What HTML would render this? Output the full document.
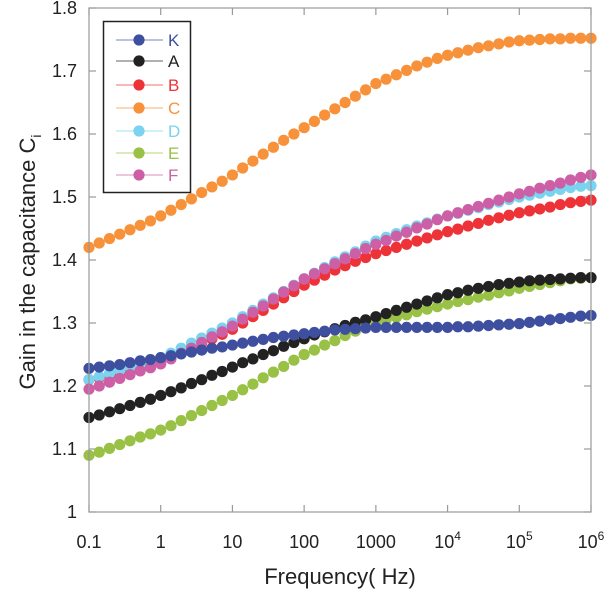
<!DOCTYPE html>
<html><head><meta charset="utf-8"><style>
body{margin:0;background:#fff;}
svg text{font-family:"Liberation Sans",Arial,sans-serif;}
</style></head><body>
<svg id="chart" width="606" height="589" xmlns="http://www.w3.org/2000/svg">
<g id="ticks"></g>
<g id="series"></g>
<rect x="89" y="8" width="502" height="504" fill="none" stroke="#999" stroke-width="1.2"/>
<g id="legend"></g>
<text x="340" y="584" font-size="22" text-anchor="middle" fill="#222">Frequency( Hz)</text>
<text transform="translate(35,262) rotate(-90)" font-size="22" text-anchor="middle" fill="#222">Gain in the capacitance C<tspan font-size="14" dy="6">i</tspan></text>
</svg>
<script>
const xTickExp = [-1,0,1,2,3,4,5,6];
const xTickLabels = ["0.1","1","10","100","1000","10^4","10^5","10^6"];
const yTicks = [1,1.1,1.2,1.3,1.4,1.5,1.6,1.7,1.8];
const yTickLabels = ["1","1.1","1.2","1.3","1.4","1.5","1.6","1.7","1.8"];
const seriesNames = ["K","A","B","C","D","E","F"];
const seriesColors = {K:"#3f4fa0",A:"#222222",B:"#ee3338",C:"#f7923a",D:"#7ad3ef",E:"#98c145",F:"#cc5fa5"};
const K = [1.228,1.230,1.232,1.234,1.237,1.240,1.242,1.245,1.248,1.251,1.254,1.257,1.260,1.262,1.265,1.268,1.271,1.274,1.277,1.279,1.281,1.283,1.285,1.287,1.289,1.290,1.291,1.292,1.293,1.293,1.293,1.293,1.293,1.293,1.293,1.293,1.294,1.294,1.295,1.296,1.297,1.298,1.299,1.301,1.303,1.305,1.307,1.309,1.311,1.312];
const A = [1.150,1.154,1.159,1.164,1.169,1.174,1.179,1.185,1.191,1.197,1.204,1.210,1.217,1.223,1.230,1.237,1.243,1.250,1.256,1.263,1.269,1.275,1.281,1.286,1.291,1.296,1.301,1.305,1.310,1.315,1.320,1.325,1.330,1.335,1.340,1.345,1.348,1.352,1.355,1.358,1.361,1.363,1.365,1.367,1.368,1.369,1.370,1.371,1.372,1.372];
const B = [1.210,1.213,1.217,1.221,1.226,1.231,1.235,1.240,1.246,1.253,1.260,1.268,1.275,1.282,1.290,1.300,1.310,1.320,1.330,1.340,1.350,1.360,1.368,1.376,1.384,1.391,1.398,1.404,1.410,1.415,1.420,1.425,1.430,1.435,1.440,1.445,1.449,1.454,1.458,1.463,1.467,1.471,1.475,1.478,1.481,1.484,1.488,1.491,1.493,1.495];
const C = [1.420,1.427,1.434,1.441,1.448,1.455,1.462,1.470,1.479,1.488,1.497,1.507,1.516,1.525,1.535,1.546,1.557,1.568,1.579,1.590,1.600,1.610,1.620,1.630,1.640,1.650,1.660,1.670,1.680,1.687,1.694,1.701,1.708,1.714,1.720,1.725,1.729,1.733,1.737,1.740,1.743,1.746,1.748,1.749,1.750,1.751,1.751,1.752,1.752,1.752];
const D = [1.210,1.215,1.220,1.225,1.230,1.235,1.240,1.245,1.252,1.260,1.268,1.276,1.284,1.292,1.300,1.310,1.320,1.330,1.340,1.350,1.360,1.370,1.379,1.388,1.397,1.405,1.413,1.422,1.430,1.436,1.442,1.448,1.454,1.459,1.465,1.470,1.474,1.479,1.483,1.488,1.492,1.496,1.500,1.503,1.506,1.509,1.512,1.515,1.517,1.518];
const E = [1.090,1.095,1.101,1.107,1.113,1.119,1.124,1.130,1.137,1.145,1.153,1.161,1.169,1.177,1.185,1.194,1.203,1.213,1.222,1.231,1.241,1.250,1.257,1.265,1.272,1.280,1.287,1.294,1.300,1.305,1.309,1.313,1.318,1.322,1.326,1.330,1.334,1.337,1.341,1.344,1.348,1.351,1.355,1.358,1.361,1.364,1.367,1.370,1.371,1.372];
const F = [1.195,1.200,1.206,1.212,1.218,1.224,1.229,1.235,1.243,1.252,1.260,1.269,1.278,1.286,1.295,1.306,1.317,1.327,1.338,1.349,1.359,1.370,1.378,1.386,1.394,1.402,1.410,1.418,1.425,1.431,1.438,1.444,1.451,1.457,1.464,1.470,1.475,1.480,1.485,1.490,1.495,1.500,1.505,1.509,1.514,1.518,1.522,1.527,1.531,1.535];
const seriesData = {K,A,B,C,D,E,F};

const NS="http://www.w3.org/2000/svg";
const L=89,R=591,T=8,Bt=512;
function xs(exp){return L+(exp+1)/7*(R-L);}
function ys(v){return Bt-(v-1)/0.8*(Bt-T);}
function mk(tag,attrs,parent){const e=document.createElementNS(NS,tag);for(const k in attrs)e.setAttribute(k,attrs[k]);parent.appendChild(e);return e;}
const tg=document.getElementById('ticks');
xTickExp.forEach((ex,i)=>{
  const x=xs(ex);
  const t1=mk('line',{x1:x,x2:x,y1:Bt,y2:Bt-7,stroke:'#999','stroke-width':1.2},tg);
  
  
  const t2=mk('line',{x1:x,x2:x,y1:T,y2:T+7,stroke:'#999','stroke-width':1.2},tg);
  
  
  const lab=xTickLabels[i];
  const tx=mk('text',{x:x,y:548,'font-size':18,'text-anchor':'middle',fill:'#222'},tg);
  
  
  if(lab.indexOf('^')>=0){const p=lab.split('^');tx.textContent=p[0];const s=mk('tspan',{'font-size':12,dy:-8},tx);s.textContent=p[1];}
  else tx.textContent=lab;
});
yTicks.forEach((v,i)=>{
  const y=ys(v);
  const t1=mk('line',{x1:L,x2:L+7,y1:y,y2:y,stroke:'#999','stroke-width':1.2},tg);
  
  
  const t2=mk('line',{x1:R,x2:R-7,y1:y,y2:y,stroke:'#999','stroke-width':1.2},tg);
  
  
  const tx=mk('text',{x:77,y:y+6,'font-size':18,'text-anchor':'end',fill:'#222'},tg);
  
  
  tx.textContent=yTickLabels[i];
});
const sg=document.getElementById('series');
const order=["C","E","A","B","D","F","K"];
order.forEach(name=>{
  const arr=seriesData[name];
  const g=mk('g',{},sg);
  
  
  const n=arr.length;
  const pts=arr.map((v,i)=>[xs(-1+7*i/(n-1)),ys(v)]);
  const pl=mk('polyline',{points:pts.map(p=>p.join(',')).join(' '),fill:'none',stroke:seriesColors[name],'stroke-width':1},g);
  
  
  pts.forEach(p=>{
    const c=mk('circle',{cx:p[0],cy:p[1],r:5.6,fill:seriesColors[name]},g);
    
    
  });
});
const lg=document.getElementById('legend');
const lr=mk('rect',{x:103.5,y:21.5,width:87,height:171,fill:'#fff',stroke:'#222','stroke-width':1.5},lg);


const ly=[40,61,85,108,131,153,175];
seriesNames.forEach((name,i)=>{
  const g=mk('g',{},lg);
  
  
  const y=ly[i];
  mk('line',{x1:116,x2:163,y1:y,y2:y,stroke:seriesColors[name],'stroke-width':1,opacity:0.7},g);
  mk('circle',{cx:139,cy:y,r:5.6,fill:seriesColors[name]},g);
  const t=mk('text',{x:168,y:y+6,'font-size':17,fill:seriesColors[name]},g);
  t.textContent=name;
});
</script>
</body></html>
